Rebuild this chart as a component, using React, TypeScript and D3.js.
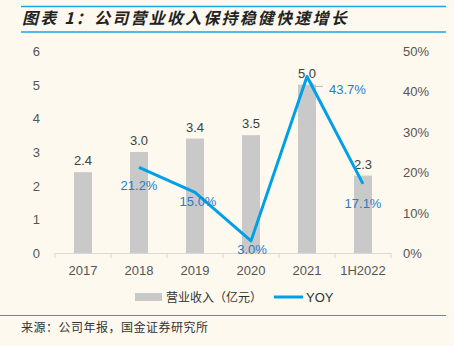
import React from "react";
import * as d3 from "d3";

const categories = ["2017", "2018", "2019", "2020", "2021", "1H2022"];
const revenue = [2.4, 3.0, 3.4, 3.5, 5.0, 2.3];
const revenueLabels = ["2.4", "3.0", "3.4", "3.5", "5.0", "2.3"];
const yoy: (number | null)[] = [null, 21.2, 15.0, 3.0, 43.7, 17.1];
const yoyLabels = ["", "21.2%", "15.0%", "3.0%", "43.7%", "17.1%"];
const leftTicks = [0, 1, 2, 3, 4, 5, 6];
const rightTicks = [0, 10, 20, 30, 40, 50];

const W = 454;
const H = 346;
const BG = "#fdf9ef";
const BLUE_RULE = "#1aa3e6";
const LINE_BLUE = "#00a0e9";
const LABEL_BLUE = "#2b7bc4";
const GRAY_BAR = "#c9c9c9";
const TEXT = "#555";
const CJK = "'Noto Sans CJK SC', sans-serif";
const LATIN = "'Liberation Sans', Arial, sans-serif";

export default function App() {
  const x = d3.scaleBand<string>().domain(categories).range([55, 391]).paddingInner(0).paddingOuter(0);
  const yL = d3.scaleLinear().domain([0, 6]).range([253, 51]);
  const yR = d3.scaleLinear().domain([0, 50]).range([253, 51]);
  const barW = 18;
  const cx = (c: string) => (x(c) as number) + x.bandwidth() / 2;

  const linePts = categories
    .map((c, i) => ({ c, v: yoy[i], i }))
    .filter((d) => d.v !== null) as { c: string; v: number; i: number }[];
  const line = d3
    .line<{ c: string; v: number }>()
    .x((d) => cx(d.c))
    .y((d) => yR(d.v));

  const yoyOffsets: Record<string, [number, number, string]> = {
    "2018": [0, 23, "middle"],
    "2019": [3, 14, "middle"],
    "2020": [1, 13, "middle"],
    "2021": [22, 17.5, "start"],
    "1H2022": [0, 24, "middle"],
  };

  const px = cx("2021");
  const py = yR(43.7);

  return (
    <svg width={W} height={H} style={{ position: "absolute", left: 0, top: 0, display: "block" }}>
      <rect x={0} y={0} width={W} height={H} fill={BG} />
      {/* title */}
      <line x1={21} x2={446} y1={6.5} y2={6.5} stroke={BLUE_RULE} strokeWidth={1.5} />
      <text
        x={22}
        y={24}
        fontFamily={CJK}
        fontSize={16}
        fontWeight="bold"
        fontStyle="italic"
        letterSpacing={2.2}
        fill="#222"
      >
        图表 1：公司营业收入保持稳健快速增长
      </text>
      <line x1={21} x2={446} y1={32} y2={32} stroke={BLUE_RULE} strokeWidth={1.5} />

      {/* left axis labels */}
      {leftTicks.map((t) => (
        <text key={"l" + t} x={40} y={yL(t) + 5} textAnchor="end" fontFamily={LATIN} fontSize={13} fill={TEXT}>
          {t}
        </text>
      ))}
      {/* right axis labels */}
      {rightTicks.map((t) => (
        <text key={"r" + t} x={403} y={yR(t) + 5} fontFamily={LATIN} fontSize={13} fill={TEXT}>
          {t + "%"}
        </text>
      ))}

      {/* bars */}
      {categories.map((c, i) => (
        <rect key={"b" + c} x={cx(c) - barW / 2} y={yL(revenue[i])} width={barW} height={253 - yL(revenue[i])} fill={GRAY_BAR} />
      ))}

      {/* x axis */}
      <line x1={55} x2={391} y1={253.5} y2={253.5} stroke="#d9d9d9" strokeWidth={1} />
      {[...categories.map((c) => x(c) as number), 391].map((p, i) => (
        <line key={"t" + i} x1={p} x2={p} y1={253} y2={258} stroke="#d9d9d9" strokeWidth={1} />
      ))}
      {categories.map((c) => (
        <text key={"x" + c} x={cx(c)} y={275} textAnchor="middle" fontFamily={LATIN} fontSize={13} fill={TEXT}>
          {c}
        </text>
      ))}

      {/* bar labels */}
      {categories.map((c, i) => (
        <text key={"bl" + c} x={cx(c)} y={yL(revenue[i]) - 7} textAnchor="middle" fontFamily={LATIN} fontSize={13} fill="#404040">
          {revenueLabels[i]}
        </text>
      ))}

      {/* leader line for 2021 label */}
      <polyline
        points={`${px},${py} ${px + 8},${py + 10} ${px + 16},${py + 10}`}
        fill="none"
        stroke="#bbb"
        strokeWidth={1}
      />

      {/* yoy line */}
      <path d={line(linePts) || ""} fill="none" stroke={LINE_BLUE} strokeWidth={3} strokeLinejoin="round" />

      {/* yoy labels */}
      {linePts.map((d) => {
        const [dx, dy, anchor] = yoyOffsets[d.c];
        return (
          <text
            key={"yl" + d.c}
            x={cx(d.c) + dx}
            y={yR(d.v) + dy}
            textAnchor={anchor as any}
            fontFamily={LATIN}
            fontSize={13}
            fill={LABEL_BLUE}
          >
            {yoyLabels[d.i]}
          </text>
        );
      })}

      {/* legend */}
      <rect x={135} y={293} width={27} height={8} fill={GRAY_BAR} />
      <text x={166} y={302} fontFamily={CJK} fontSize={12} fill="#333">
        营业收入（亿元）
      </text>
      <line x1={274} x2={303} y1={297} y2={297} stroke={LINE_BLUE} strokeWidth={3} />
      <text x={306} y={302} fontFamily={LATIN} fontSize={13} fill="#333">
        YOY
      </text>

      {/* footer */}
      <line x1={0} x2={446} y1={315.5} y2={315.5} stroke={BLUE_RULE} strokeWidth={1.2} />
      <text x={21} y={332} fontFamily={CJK} fontSize={12} letterSpacing={0.5} fill="#333">
        来源：公司年报，国金证券研究所
      </text>
    </svg>
  );
}
